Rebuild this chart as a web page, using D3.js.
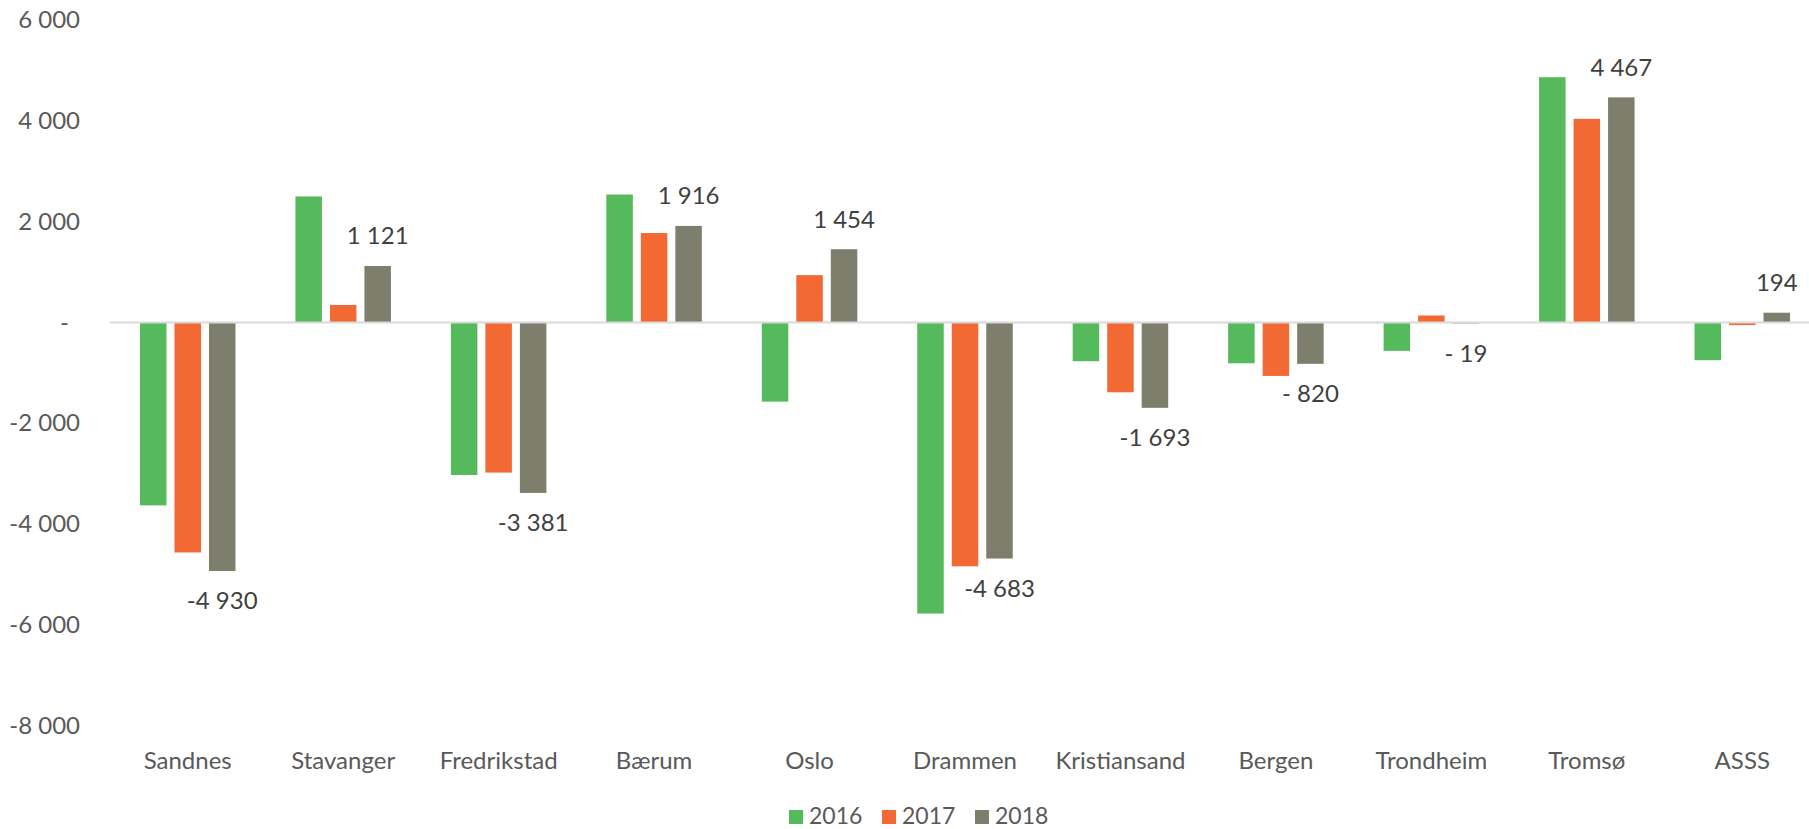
<!DOCTYPE html>
<html lang="no">
<meta charset="utf-8"/>
<head>
<script src="https://d3js.org/d3.v7.min.js"></script>
</head>
<style>
  body { margin: 0; background: #fff; }
  svg { display: block; }
  .axis text, .cat text { font: 24px Lato, sans-serif; fill: #595959; }
  .lbl { font: 24px Lato, sans-serif; fill: #404040; }
  .legend text { font: 23px Lato, sans-serif; fill: #595959; }
</style>
<body>
<script>
// chart data
var categories = ["Sandnes", "Stavanger", "Fredrikstad", "Bærum", "Oslo", "Drammen",
                  "Kristiansand", "Bergen", "Trondheim", "Tromsø", "ASSS"];
var years = ["2016", "2017", "2018"];
var v2016 = [-3628, 2501, -3026, 2539, -1570, -5775, -768, -809, -563, 4867, -748];
var v2017 = [-4563, 348, -2978, 1775, 940, -4837, -1385, -1060, 139, 4040, -52];
var v2018 = [-4930, 1121, -3381, 1916, 1454, -4683, -1693, -820, -19, 4467, 194];
var yTicks = [6000, 4000, 2000, 0, -2000, -4000, -6000, -8000];
var colors = ["#55ba5b", "#f26934", "#7e7e6c"];

var series = [v2016, v2017, v2018];
var width = 1809, height = 829;

var svg = d3.select("body").append("svg")
    .attr("width", width)
    .attr("height", height);

var x = d3.scaleBand()
    .domain(categories)
    .range([110, 1820]);

var x1 = d3.scaleBand()
    .domain(years)
    .range([-47.75, 47.75])
    .paddingInner(0.232);

var y = d3.scaleLinear()
    .domain([-8000, 6000])
    .range([725.7, 20.1]);

function fmt(v) {
  var a = Math.abs(v);
  var s = d3.format(",")(a).replace(/,/g, " ");
  if (v < 0) return a < 1000 ? "- " + s : "-" + s;
  if (v == 0) return "-";
  return s;
}

// y axis labels (no axis line, no gridlines)
var yAxis = svg.append("g")
    .attr("class", "axis")
    .attr("transform", "translate(80,0)")
    .call(d3.axisLeft(y).tickValues(yTicks).tickSize(0).tickPadding(0)
      .tickFormat(function(d) { return d == 0 ? "-" : fmt(d); }));
yAxis.select(".domain").remove();
yAxis.selectAll("text").filter(function(d) { return d == 0; }).attr("dx", -11);

// bars
years.forEach(function(yr, si) {
  svg.append("g").selectAll("rect")
    .data(series[si]).enter()
    .append("rect")
    .attr("x", function(d, i) { return x(categories[i]) + x.bandwidth() / 2 + x1(yr); })
    .attr("width", x1.bandwidth())
    .attr("y", function(d) { return y(Math.max(0, d)); })
    .attr("height", function(d) { return Math.abs(y(d) - y(0)); })
    .attr("fill", colors[si]);
});

// zero line
svg.append("line")
    .attr("x1", 110).attr("x2", width)
    .attr("y1", y(0)).attr("y2", y(0))
    .attr("stroke", "#d9d9d9")
    .attr("stroke-width", 2);

// data labels on 2018
svg.append("g").selectAll("text")
    .data(v2018).enter()
    .append("text")
    .attr("class", "lbl")
    .attr("text-anchor", "middle")
    .attr("x", function(d, i) { return x(categories[i]) + x.bandwidth() / 2 + x1("2018") + x1.bandwidth() / 2; })
    .attr("y", function(d) { return d >= 0 ? y(d) - 30 : y(d) + 30; })
    .attr("dy", "0.35em")
    .text(function(d) { return fmt(d); });

// category labels
svg.append("g")
    .attr("class", "cat")
    .selectAll("text")
    .data(categories).enter()
    .append("text")
    .attr("text-anchor", "middle")
    .attr("x", function(d) { return x(d) + x.bandwidth() / 2; })
    .attr("y", 769)
    .text(function(d) { return d; });

// legend
var leg = svg.append("g")
    .attr("class", "legend")
    .selectAll("g")
    .data(years).enter()
    .append("g")
    .attr("transform", function(d, i) { return "translate(" + (789 + i * 93) + ",0)"; });
leg.append("rect")
    .attr("x", 0).attr("y", 810)
    .attr("width", 14).attr("height", 14)
    .attr("fill", function(d, i) { return colors[i]; });
leg.append("text")
    .attr("x", 20).attr("y", 824)
    .text(function(d) { return d; });
</script>
</body>
</html>
